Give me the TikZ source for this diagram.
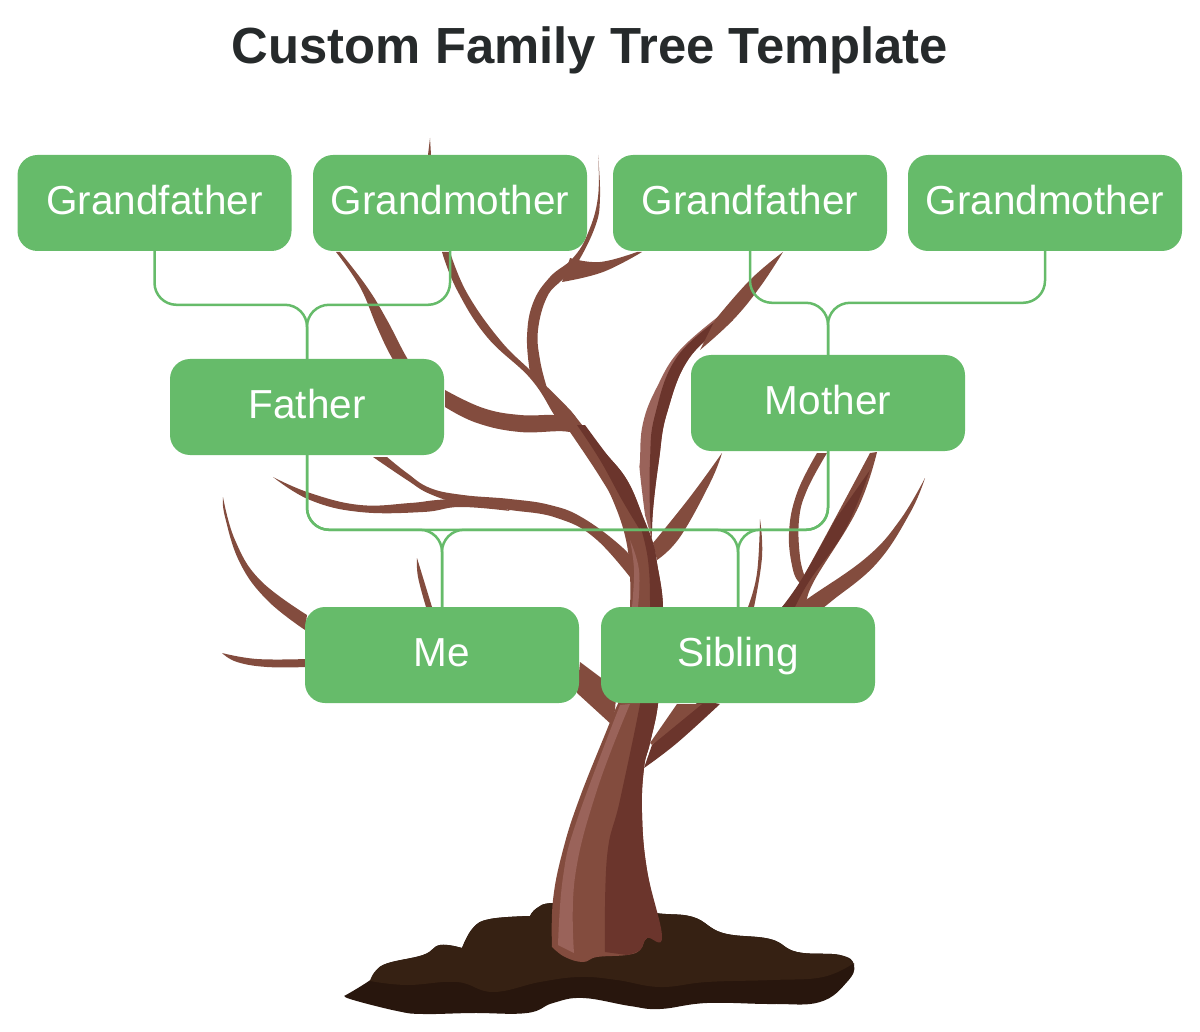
\documentclass[tikz,border=0pt]{standalone}
\usepackage{fontspec}
\setmainfont{Liberation Sans}
\usetikzlibrary{positioning,calc}
\definecolor{leafgreen}{RGB}{102,187,106}
\definecolor{barkmid}{RGB}{131,76,62}
\definecolor{barkdark}{RGB}{107,53,44}
\definecolor{barklight}{RGB}{154,99,90}
\definecolor{soiltop}{RGB}{54,33,19}
\definecolor{soilbase}{RGB}{40,22,13}
\definecolor{titleink}{RGB}{38,42,43}
\tikzset{
  person/.style={fill=leafgreen, text=white, rounded corners=20pt, minimum width=274pt, minimum height=96pt,
    inner sep=0pt, text height=29pt, text depth=6pt, font=\fontsize{40.5}{44}\selectfont},
  link/.style={draw=leafgreen, line width=2.5pt, rounded corners=22pt},
}
% one limb of the tree: two smooth sides that meet in a point
\newcommand{\limb}[3]{\fill[#1] plot[smooth,tension=0.7] coordinates {#2} -- plot[smooth,tension=0.7] coordinates {#3} -- cycle;}

\begin{document}
\begin{tikzpicture}[x=1pt,y=-1pt]
  \useasboundingbox (0,0) rectangle (1200,1032);

  % Title
  \node[text=titleink, font=\fontsize{50.8}{54}\selectfont\bfseries] (title) at (590,50) {Custom Family Tree Template};

  % Soil
  \fill[soilbase] plot[smooth,tension=0.7] coordinates {(346,995) (373,978) (383,965) (423,955) (440,945) (462,948)}
    -- plot[smooth,tension=0.7] coordinates {(462,948) (473,928) (490,919) (530,916)}
    -- plot[smooth,tension=0.7] coordinates {(530,916) (537,908) (553,903) (600,905) (655,913) (693,917) (723,933) (770,939) (797,952) (840,955) (854,965) (847,982) (820,1002) (773,1004) (707,1003) (660,1009) (630,1006) (583,998) (553,1003) (527,1013) (473,1013) (423,1014) (397,1011) (350,999) (346,995)} -- cycle;
  \fill[soiltop] plot[smooth,tension=0.7] coordinates {(370,981) (383,965) (423,955) (440,945) (462,948)}
    -- plot[smooth,tension=0.7] coordinates {(462,948) (473,928) (490,919) (530,916)}
    -- plot[smooth,tension=0.7] coordinates {(530,916) (537,908) (553,903) (600,905) (655,913) (693,917) (723,933) (770,939) (797,952) (840,955) (854,965)}
    -- plot[smooth,tension=0.7] coordinates {(854,963) (823,977) (773,980) (707,982) (660,987) (617,980) (580,977) (540,982) (493,992) (457,982) (407,985) (370,981)} -- cycle;

  % Far branches
  \limb{barkmid}{(305,630) (267,600) (240,563) (225,517) (223,497)}{(223,497) (235,540) (260,580) (307,615)}
  \limb{barkmid}{(307,667) (267,667) (237,662) (222,653)}{(222,653) (257,659) (307,659)}
  \limb{barkmid}{(426,607) (418,577) (417,558)}{(417,558) (432,607)}
  \limb{barkmid}{(748,607) (757,573) (760,519)}{(760,519) (762,557) (754,607)}
  \limb{barkmid}{(800,583) (793,570) (789,533) (797,493) (817,453)}{(827,453) (807,490) (799,520) (800,557) (805,577)}
  \limb{barkmid}{(795,607) (813,595) (867,557) (900,520) (925,478)}{(925,478) (910,513) (877,563) (833,600) (820,610)}
  \limb{barkmid}{(782,607) (803,577) (870,453)}{(877,452) (857,510) (813,583) (807,607)}
  \limb{barkdark}{(782,607) (803,577) (835,520)}{(870,470) (845,530) (810,580) (795,607)}

  % Branches under the parents
  \limb{barkmid}{(336,252) (360,287) (377,327) (392,358) (410,385)}{(425,385) (407,358) (387,320) (367,287) (340,252)}
  \limb{barkmid}{(430,138) (428,155)}{(431,155) (430,138)}
  \limb{barkmid}{(510,511) (460,507) (423,512) (360,512) (310,500) (273,477)}{(273,477) (310,493) (360,505) (410,503) (437,500) (480,497)}
  \limb{barkmid}{(640,590) (597,540) (557,518) (510,510) (463,504) (430,494) (407,480) (373,457)}{(387,457) (407,473) (430,488) (463,495) (510,499) (550,505) (583,518) (623,548) (640,570)}
  \limb{barkmid}{(445,390) (483,408) (520,415) (553,415) (572,418)}{(590,445) (570,432) (520,432) (477,423) (445,407)}
  \limb{barkmid}{(442,252) (457,290) (487,337) (530,378) (553,413) (560,425)}{(580,425) (570,410) (533,373) (500,340) (467,293) (450,252)}
  \limb{barkmid}{(530,373) (527,337) (533,303) (550,277) (573,258) (588,233) (598,197) (598,155)}{(598,155) (600,197) (595,227) (575,267) (562,280) (547,297) (538,330) (540,360) (547,388)}
  \limb{barkmid}{(570,258) (600,262) (637,252)}{(642,252) (603,272) (562,282)}

  % Limbs next to the trunk
  \limb{barkmid}{(653,543) (690,497) (722,453)}{(722,453) (710,483) (680,537) (657,560)}
  \limb{barklight}{(645,515) (640,473) (640,460) (643,423) (657,387) (680,350) (723,313)}{(733,320) (690,357) (667,413) (659,460) (653,510) (652,540)}
  \limb{barkdark}{(650,515) (650,460) (655,415) (677,357) (723,316)}{(733,320) (690,357) (667,413) (659,460) (653,510) (652,540)}
  \limb{barkmid}{(715,320) (750,280) (783,252)}{(783,252) (760,287) (733,320) (700,350)}
  \limb{barkmid}{(577,693) (580,662)}{(600,677) (615,695) (612,725)}
  \limb{barkdark}{(644,768) (677,743) (720,704)}{(700,700) (652,745)}
  \limb{barkmid}{(650,743) (677,704)}{(702,704) (652,745)}

  % Trunk
  \fill[barkmid] plot[smooth,tension=0.7] coordinates {(552,947) (553,900) (563,850) (580,797) (610,722) (622,690) (628,640) (630,607) (630,577) (626,540) (614,503) (600,477) (570,432)}
    -- plot[smooth,tension=0.7] coordinates {(570,410) (600,447) (627,480) (643,517) (653,543) (657,563) (663,607) (660,660) (658,704) (650,743) (644,768) (642,813) (647,870) (662,937)}
    -- plot[smooth,tension=0.7] coordinates {(662,937) (647,938) (640,950) (627,955) (597,957) (583,962) (565,957) (552,947)} -- cycle;
  \limb{barkdark}{(605,952) (607,857) (620,800) (640,704) (648,650) (650,607) (648,560) (640,525)}{(643,517) (653,543) (657,563) (663,607) (660,660) (658,704) (650,743) (644,768) (642,813) (647,870) (662,937) (647,938) (640,950) (627,955)}
  \limb{barklight}{(558,945) (563,877) (577,820) (620,705)}{(630,704) (597,790) (575,877) (574,953)}
  \limb{barklight}{(632,607) (634,570) (630,540)}{(630,540) (639,570) (638,607)}
  \limb{barkdark}{(577,425) (600,460) (622,500) (640,530)}{(643,517) (627,480) (605,452) (585,425)}

  % Grandparents
  \node[person] (gf1) at (154.5,203) {Grandfather};
  \node[person] (gm1) at (450,203) {Grandmother};
  \node[person] (gf2) at (750,203) {Grandfather};
  \node[person] (gm2) at (1045,203) {Grandmother};

  % Parents
  \node[person] (father) at (307,407) {Father};
  \node[person] (mother) at (828,403) {Mother};

  % Children
  \node[person] (me) at (442,655) {Me};
  \node[person] (sibling) at (738,655) {Sibling};

  % Joints
  \coordinate (fatherbus) at ($(father.north)+(0,-54)$);
  \coordinate (motherbus) at ($(mother.north)+(0,-52)$);
  \coordinate (mebus) at ($(me.north)+(0,-77)$);
  \coordinate (siblingbus) at ($(sibling.north)+(0,-77)$);

  % Links
  \draw[link] (gf1.south) |- (fatherbus) -- (father.north);
  \draw[link] (gm1.south) |- (fatherbus) -- (father.north);
  \draw[link] (gf2.south) |- (motherbus) -- (mother.north);
  \draw[link] (gm2.south) |- (motherbus) -- (mother.north);
  \draw[link] (father.south) |- (mebus) -- (me.north);
  \draw[link] (father.south) |- (siblingbus) -- (sibling.north);
  \draw[link] (mother.south) |- (mebus) -- (me.north);
  \draw[link] (mother.south) |- (siblingbus) -- (sibling.north);
\end{tikzpicture}
\end{document}
